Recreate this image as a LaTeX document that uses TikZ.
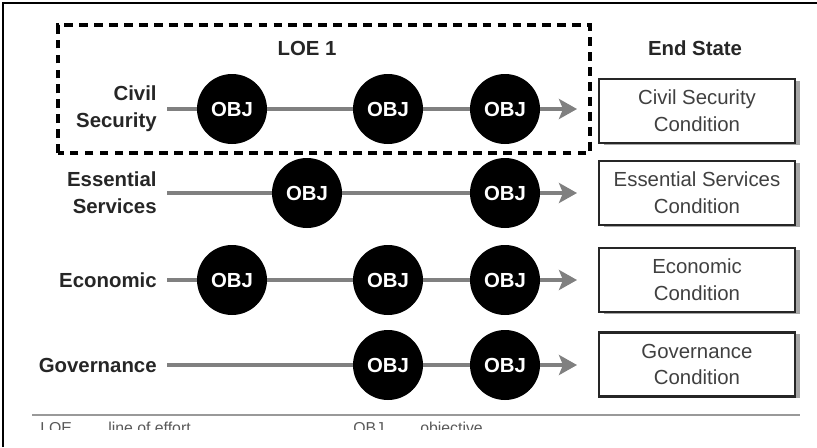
\documentclass[tikz,border=0pt]{standalone}
\usepackage{fontspec}
\setmainfont{Liberation Sans}
\usetikzlibrary{arrows.meta,shadows}
\definecolor{loegray}{gray}{0.5}
\begin{document}
\begin{tikzpicture}[
  lbl/.style={anchor=east,align=right,inner sep=0.2cm,text=black!85,
    font=\bfseries\fontsize{11.6}{15.3}\selectfont},
  head/.style={text=black!85,font=\bfseries\fontsize{11.6}{15.3}\selectfont},
  obj/.style={circle,fill=black,minimum size=1.4cm,inner sep=0pt,text=white,
    font=\bfseries\fontsize{11.6}{15.3}\selectfont},
  cond/.style={draw=black!85,line width=1.3pt,fill=white,minimum width=3.92cm,
    minimum height=1.28cm,align=center,text=black!75,
    font=\fontsize{11.6}{15.3}\selectfont,
    drop shadow={shadow xshift=0.09cm,shadow yshift=-0.03cm,fill=black!35,opacity=1}},
  loeline/.style={draw=loegray,line width=2.3pt},
  loearrow/.style={loeline,-{Stealth[length=0.36cm,width=0.40cm,inset=0.08cm]}},
  legend/.style={anchor=base west,inner sep=0pt,text=black!65,
    font=\fontsize{9}{11}\selectfont},
]
\useasboundingbox (0,0) rectangle (16.34,8.94);
% frame
\draw[line width=1.7pt] (0.06,0) -- (0.06,8.88) -- (16.34,8.88);
% LOE 1 outline
\draw[line width=2.3pt,dash pattern=on 5pt off 3.5pt] (1.16,5.88) rectangle (11.80,8.44);
\node[head] (loe) at (6.14,7.98) {LOE 1};
\node[head] (endst) at (13.90,7.98) {End State};
% civil security
\node[lbl] (civ) at (3.34,6.76) {Civil\\Security};
\node[obj] (o1a) at (4.64,6.76) {OBJ};
\node[obj] (o1b) at (7.76,6.76) {OBJ};
\node[obj] (o1c) at (10.10,6.76) {OBJ};
\coordinate (e1) at (11.54,6.76);
\node[cond] (c1) at (13.94,6.72) {Civil Security\\Condition};
\draw[loeline] (civ) -- (o1a) -- (o1b) -- (o1c);
\draw[loearrow] (o1c) -- (e1);
% essential services
\node[lbl] (ess) at (3.34,5.08) {Essential\\Services};
\node[obj] (o2a) at (6.14,5.08) {OBJ};
\node[obj] (o2b) at (10.10,5.08) {OBJ};
\coordinate (e2) at (11.54,5.08);
\node[cond] (c2) at (13.94,5.08) {Essential Services\\Condition};
\draw[loeline] (ess) -- (o2a) -- (o2b);
\draw[loearrow] (o2b) -- (e2);
% economic
\node[lbl] (eco) at (3.34,3.34) {Economic};
\node[obj] (o3a) at (4.64,3.34) {OBJ};
\node[obj] (o3b) at (7.76,3.34) {OBJ};
\node[obj] (o3c) at (10.10,3.34) {OBJ};
\coordinate (e3) at (11.54,3.34);
\node[cond] (c3) at (13.94,3.34) {Economic\\Condition};
\draw[loeline] (eco) -- (o3a) -- (o3b) -- (o3c);
\draw[loearrow] (o3c) -- (e3);
% governance
\node[lbl] (gov) at (3.34,1.64) {Governance};
\node[obj] (o4a) at (7.76,1.64) {OBJ};
\node[obj] (o4b) at (10.10,1.64) {OBJ};
\coordinate (e4) at (11.54,1.64);
\node[cond] (c4) at (13.94,1.65) {Governance\\Condition};
\draw[loeline] (gov) -- (o4a) -- (o4b);
\draw[loearrow] (o4b) -- (e4);
% legend, cut off at the bottom
\draw[black!40,line width=1.1pt] (0.64,0.64) -- (16.00,0.64);
\node[legend] (kloe) at (0.80,0.27) {LOE};
\node[legend] (tloe) at (2.16,0.27) {line of effort};
\node[legend] (kobj) at (7.06,0.27) {OBJ};
\node[legend] (tobj) at (8.40,0.27) {objective};
\fill[white] (0.12,0) rectangle (16.34,0.34);
\end{tikzpicture}
\end{document}
